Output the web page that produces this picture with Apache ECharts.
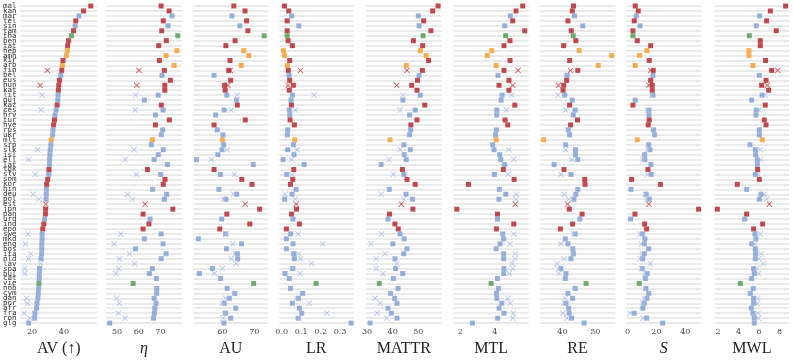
<!DOCTYPE html>
<html>
<head>
<meta charset="utf-8">
<script src="https://cdn.jsdelivr.net/npm/echarts@6/dist/echarts.min.js"></script>
<style>
  html, body { margin: 0; padding: 0; background: #fff; }
  #myChart { width: 793px; height: 362px; }
</style>
</head>
<body>
<div id="myChart"></div>
<script>
let langs = ['mal','kan','mar','tel','sin','tam','tha','ben','tat','heb',
  'amh','kir','arb','fin','bel','eus','hun','kat','lit','guj',
  'kaz','ces','hrv','tur','hye','rus','ukr','mlt','srp','slk',
  'isl','ell','lat','tgk','slv','som','kor','hin','deu','pol',
  'est','jpn','pan','urd','ind','epo','swe','mkd','eng','bos',
  'ita','nld','lav','spa','bul','cat','vie','nob','cym','dan',
  'por','afr','fra','ron','glg'];
// r = red, b = blue, o = orange, g = green
let groups = ['r','r','b','r','b','r','g','r','r','o',
  'o','r','o','r','b','r','r','r','b','b',
  'r','b','b','r','r','b','b','o','b','b',
  'b','b','b','r','b','r','r','b','b','b',
  'r','r','r','b','r','r','b','b','b','b',
  'b','b','b','b','b','b','g','b','b','b',
  'b','b','b','b','b'];
// languages that also have a cross marker
let xLangs = ['fin','hun','lit','ces','slk','ell','slv','deu','pol','est','swe',
  'eng','ita','nld','lav','spa','bul','dan','por','fra','ron'];

let av = [56.8, 52.3, 49.4, 47.4, 47.0, 46.0, 44.7, 42.9, 42.3, 42.1,
  41.5, 39.4, 39.0, 38.6, 38.0, 37.2, 36.7, 36.5, 36.3, 36.1,
  35.7, 35.1, 34.4, 34.1, 33.5, 33.1, 32.9, 32.0, 31.8, 31.4,
  31.2, 31.0, 30.9, 30.6, 30.5, 29.8, 29.2, 29.0, 28.9, 28.8,
  null, 28.5, 28.4, 27.8, 27.4, 26.7, 26.3, 26.3, 26.1, 26.1,
  26.0, 25.7, null, 24.7, 24.6, 24.5, 24.3, 24.1, 23.9, 23.7,
  23.1, 22.8, 21.8, 21.6, 17.9];
let avX = [29.6, 25.1, 26.3, 25.7, 23.5, 17.9, 22.0, 20.8, 24.3, 28.6, 17.5,
  15.9, 19.2, 17.9, 25.3, 15.5, 15.5, 16.5, 17.1, 15.1, 18.8];

let eta = [70.3, 74.0, 75.3, 71.3, 73.5, 70.6, 78.0, 72.7, 69.2, 77.6,
  72.6, 69.5, 76.3, 71.8, 70.7, 74.6, 72.0, 72.0, 69.0, 62.6,
  70.4, 71.2, 67.7, 74.1, 67.7, 71.0, 70.4, 66.3, 65.8, 71.3,
  69.0, 67.1, 73.2, 64.0, 70.1, 72.1, 71.3, 66.4, 72.9, 71.8,
  null, 75.7, 62.0, 65.2, 64.7, 62.0, 70.3, 62.6, 71.2, 58.5,
  72.6, 70.3, null, 66.3, 64.9, 68.1, 57.4, 68.3, 68.3, 67.1,
  68.0, 67.4, 67.2, 66.8, 46.6];
let etaX = [60.1, 59.1, 58.6, 58.3, 57.8, 53.8, 58.9, 54.9, 57.2, 62.9, 51.7,
  48.6, 55.8, 51.1, 58.0, 50.8, 49.5, 49.8, 51.0, 50.6, 53.7];

let au = [63.6, 67.1, 63.0, 67.6, 65.5, 68.0, 73.1, 64.0, 61.1, 66.7,
  68.3, 62.4, 65.9, 62.0, 57.4, 62.6, 60.7, 60.9, 61.4, 64.4,
  64.7, 60.6, 57.9, 67.2, 57.4, 58.4, 60.2, 60.0, 60.4, 59.9,
  58.6, 51.9, 69.7, 57.4, 59.4, 66.1, 69.3, 58.9, 64.5, 61.1,
  null, 71.7, 61.4, 59.8, 68.6, 59.2, 61.0, 52.5, 66.0, 61.3,
  64.7, 64.8, null, 56.9, 52.8, 59.4, 69.8, 61.5, 63.9, 62.2,
  60.6, 64.2, 61.0, 62.6, 60.5];
let auX = [62.5, 61.7, 64.7, 62.8, 61.5, 56.6, 63.8, 63.6, 60.3, 67.2, 61.2,
  63.3, 64.0, 62.8, 64.3, 60.0, 57.5, 61.0, 59.9, 60.7, 60.2];

let lr = [0.014, 0.036, 0.051, 0.028, 0.088, 0.028, 0.028, 0.033, 0.055, 0.009,
  0.015, 0.041, 0.029, 0.034, 0.038, 0.041, 0.060, 0.039, 0.055, 0.048,
  0.050, 0.039, 0.041, 0.043, 0.065, 0.031, 0.029, 0.067, 0.060, 0.031,
  0.063, 0.007, 0.115, 0.062, 0.026, 0.057, 0.045, 0.074, 0.053, 0.015,
  null, 0.076, 0.050, 0.058, 0.091, 0.024, 0.046, 0.024, 0.058, 0.024,
  0.062, 0.065, null, 0.057, 0.017, 0.039, 0.177, 0.045, 0.108, 0.086,
  0.055, 0.091, 0.103, 0.084, 0.357];
let lrX = [0.096, 0.033, 0.166, 0.070, 0.079, 0.050, 0.053, 0.017, 0.069, 0.075, 0.084,
  0.211, 0.087, 0.096, 0.153, 0.053, 0.094, 0.077, 0.141, 0.232, 0.089];

let mattr = [57.7, 55.6, 50.0, 52.1, 50.3, 54.9, 51.9, 48.1, 51.7, 50.8,
  53.0, 54.0, 45.3, 51.6, 50.3, 49.7, 47.4, 49.5, 50.8, 44.0,
  52.5, 48.8, 46.6, 49.5, 47.1, 47.0, 46.6, 39.0, 44.4, 46.9,
  44.5, 45.3, 35.5, 43.8, 44.4, 45.6, 48.8, 38.7, 45.2, 47.7,
  null, 47.9, 38.8, 38.2, 40.9, 42.2, 42.9, 44.5, 40.1, 45.6,
  44.3, 40.9, null, 41.2, 43.9, 40.3, 34.8, 42.1, 39.2, 40.8,
  41.7, 38.2, 39.5, 41.7, 31.2];
let mattrX = [45.6, 41.6, 44.0, 42.9, 42.9, 38.6, 40.3, 35.6, 44.3, 43.4, 35.7,
  31.6, 37.1, 33.6, 41.7, 33.6, 36.2, 33.1, 35.2, 34.0, 37.7];

let mtl = [5.63, 5.24, 4.91, 5.05, 4.58, 5.75, 4.64, 4.89, 4.54, 3.83,
  3.57, 4.89, 4.08, 4.54, 4.19, 4.83, 4.25, 4.83, 4.43, 4.37,
  5.17, 4.12, 4.12, 4.60, 4.76, 4.10, 4.04, 4.08, 3.88, 3.96,
  4.29, 4.35, 4.58, 4.50, 3.98, 5.13, 2.47, 4.27, 4.64, 4.25,
  null, 1.79, 4.16, 4.16, 5.11, 4.10, 4.47, 4.52, 4.31, 4.08,
  4.52, 4.52, null, 4.54, 4.52, 4.16, 3.79, 4.21, 4.10, 4.12,
  4.41, 4.25, 4.54, 4.17, 2.70];
let mtlX = [5.36, 5.05, 4.99, 4.68, 4.82, 5.11, 4.78, 5.26, 5.24, 5.20, 5.11,
  4.89, 5.20, 5.17, 5.01, 5.05, 4.85, 4.76, 4.91, 5.09, 5.05];

let re = [43.4, 43.0, 43.7, 41.7, 46.2, 42.7, 43.3, 44.1, 40.4, 45.1,
  55.0, 42.2, 50.9, 44.7, 41.4, 41.3, 40.4, 40.2, 40.7, 43.0,
  42.2, 43.9, 43.3, 44.6, 42.5, 41.8, 42.2, 34.3, 41.0, 44.0,
  44.0, 44.7, 37.5, 40.5, 42.6, 46.8, 46.9, 44.7, 44.1, 43.5,
  null, 42.1, 46.0, 45.3, 43.1, 39.4, 43.9, 40.9, 41.7, 43.2,
  43.4, 42.6, null, 39.6, 41.1, 40.9, 47.2, 43.9, 41.7, 43.1,
  41.1, 41.9, 42.1, 42.8, 46.6];
let reX = [42.5, 38.8, 38.7, 41.0, 41.0, 42.9, 39.6, 40.6, 41.9, 41.6, 43.5,
  39.5, 43.2, 40.5, 38.4, 38.8, 38.9, 40.9, 40.5, 40.2, 41.4];

let sv = [5.3, 7.4, 6.0, 4.6, 8.6, 3.7, 3.7, 6.7, 16.0, 13.4,
  8.3, 15.0, 5.3, 17.8, 17.6, 16.0, 17.1, 17.1, 17.6, 5.3,
  3.7, 14.8, 14.8, 15.0, 14.3, 18.0, 18.7, 6.7, 14.6, 15.5,
  11.8, 12.0, 16.2, 14.1, 16.4, 2.8, 22.7, 2.3, 12.9, 15.0,
  null, 49.2, 5.1, 2.1, 11.8, 13.2, 10.2, 12.0, 11.6, 14.6,
  11.6, 10.4, null, 10.2, 13.6, 12.3, 8.1, 12.7, 14.6, 13.4,
  11.6, 10.6, 4.6, 13.2, 24.3];
let svX = [16.0, 14.8, 16.9, 13.9, 13.9, 10.4, 13.9, 12.3, 13.4, 14.8, 8.6,
  9.5, 10.2, 8.6, 15.7, 9.7, 12.0, 11.8, 10.4, 1.8, 10.6];

let mwl = [8.59, 7.10, 6.06, 6.74, 5.73, 7.68, 5.05, 6.12, 6.12, 5.02,
  5.02, 6.64, 5.41, 7.23, 6.03, 6.68, 6.25, 6.94, 6.29, 5.28,
  6.61, 5.73, 5.70, 6.51, 6.68, 6.03, 6.03, 6.32, 5.12, 5.64,
  5.67, 5.83, 5.83, 5.86, 5.64, 6.03, 3.88, 4.79, 6.19, 6.03,
  null, 1.94, 4.79, 4.60, 6.35, 5.47, 5.60, 5.70, 5.28, 5.64,
  5.67, 5.64, null, 5.47, 5.54, 5.28, 4.18, 5.44, 5.15, 5.47,
  5.47, 5.25, 5.41, 5.54, 5.54];
let mwlX = [7.81, 6.81, 6.61, 5.99, 6.12, 6.16, 5.90, 6.51, 6.74, 7.00, 6.12,
  5.57, 6.22, 5.99, 6.42, 5.77, 5.96, 5.86, 5.83, 5.90, 5.93];

let colors = {r: '#b01e24', b: '#7e9ed3', o: '#f59b2b', g: '#4e9a4e'};
let xColors = {r: '#c4323a', b: '#a4bae0'};
let crossPath = 'path://M1,0L5,4L9,0L10,1L6,5L10,9L9,10L5,6L1,10L0,9L4,5L0,1Z';

let panels = [
  {name: 'AV (↑)', vals: av, alt: avX, min: 12.8, max: 60.7, ticks: [20, 40], left: 19, right: 97},
  {name: 'η', italic: true, vals: eta, alt: etaX, min: 44.9, max: 79.8, ticks: [50, 60, 70], left: 106, right: 181.7},
  {name: 'AU', vals: au, alt: auX, min: 50.9, max: 74.4, ticks: [60, 70], left: 193.3, right: 268.3},
  {name: 'LR', vals: lr, alt: lrX, min: -0.0124, max: 0.368, ticks: [0, 0.1, 0.2, 0.3], fmt: v => v.toFixed(1), left: 279.3, right: 353.3},
  {name: 'MATTR', vals: mattr, alt: mattrX, min: 29.74, max: 58.96, ticks: [30, 40, 50], left: 366.3, right: 441.3},
  {name: 'MTL', vals: mtl, alt: mtlX, min: 1.61, max: 5.98, ticks: [2, 4], left: 453.7, right: 528.7},
  {name: 'RE', vals: re, alt: reX, min: 33.1, max: 56.1, ticks: [40, 50], left: 539.7, right: 615.3},
  {name: 'S', italic: true, vals: sv, alt: svX, min: -0.9, max: 51.1, ticks: [0, 20, 40], left: 626.3, right: 701.3},
  {name: 'MWL', vals: mwl, alt: mwlX, min: 1.68, max: 8.92, ticks: [2, 4, 6, 8], left: 714.7, right: 789}
];

let grid = [], xAxis = [], yAxis = [], series = [];
panels.forEach((p, k) => {
  grid.push({left: p.left, width: p.right - p.left, top: 6, height: 326});
  xAxis.push({
    type: 'value', gridIndex: k, min: p.min, max: p.max,
    name: p.name, nameLocation: 'middle', nameGap: 10,
    nameTextStyle: {fontFamily: 'Liberation Serif', fontSize: 16, color: '#222',
      fontStyle: p.italic ? 'italic' : 'normal'},
    axisLine: {show: false}, axisTick: {show: false}, splitLine: {show: false},
    axisLabel: {customValues: p.ticks, formatter: p.fmt || (v => String(v)),
      fontFamily: 'DejaVu Serif', fontSize: 8, color: '#444', margin: 5}
  });
  yAxis.push({
    type: 'category', gridIndex: k, data: langs, inverse: true, boundaryGap: false,
    axisLine: {show: false}, axisTick: {show: false},
    splitLine: {show: true, interval: 0, lineStyle: {color: '#e3e3e3', width: 1.5}},
    axisLabel: {show: k === 0, interval: 0, fontFamily: 'DejaVu Sans Mono',
      fontSize: 7.5, color: '#333', margin: 4}
  });
  let main = [];
  p.vals.forEach((v, i) => {
    if (v == null) return;
    main.push({value: [v, langs[i]], itemStyle: {color: colors[groups[i]]}});
  });
  let cross = p.alt.map((v, j) => {
    let g = groups[langs.indexOf(xLangs[j])];
    return {value: [v, xLangs[j]], itemStyle: {color: xColors[g]}};
  });
  series.push({type: 'scatter', xAxisIndex: k, yAxisIndex: k, symbol: 'rect',
    symbolSize: 5, data: main});
  series.push({type: 'scatter', xAxisIndex: k, yAxisIndex: k, symbol: crossPath,
    symbolSize: 6, data: cross});
});

let option = {
  animation: false,
  backgroundColor: '#fff',
  grid: grid,
  xAxis: xAxis,
  yAxis: yAxis,
  series: series
};
let myChart = echarts.init(document.getElementById('myChart'));
myChart.setOption(option);
</script>
</body>
</html>
